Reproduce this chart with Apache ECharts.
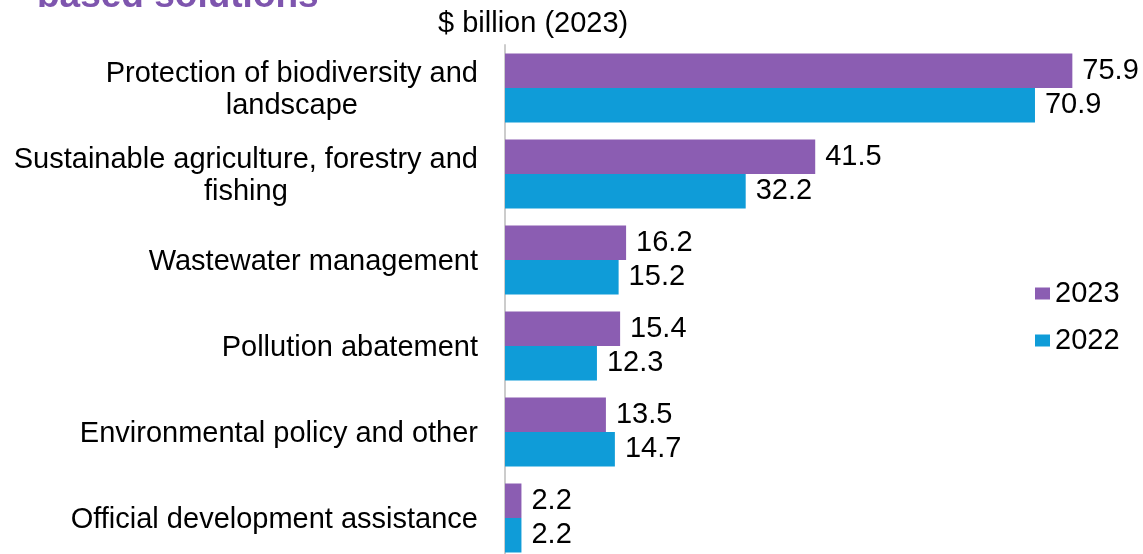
<!DOCTYPE html>
<html>
<head>
<meta charset="utf-8">
<script src="https://cdn.jsdelivr.net/npm/echarts@6/dist/echarts.min.js"></script>
<style>
  html, body { margin: 0; padding: 0; background: #ffffff; }
  #chart { width: 1143px; height: 554px; }
</style>
</head>
<body>
<div id="chart"></div>
<script>
// Spending categories, top to bottom
const categories = [
  'Protection of biodiversity and\nlandscape',
  'Sustainable agriculture, forestry and\nfishing',
  'Wastewater management',
  'Pollution abatement',
  'Environmental policy and other',
  'Official development assistance'
];
// $ billion (2023 prices)
const values2023 = [75.9, 41.5, 16.2, 15.4, 13.5, 2.2];
const values2022 = [70.9, 32.2, 15.2, 12.3, 14.7, 2.2];
const seriesNames = ['2023', '2022'];

const FONT = '"Liberation Sans", Arial, Helvetica, sans-serif';
const FS = 29;
const PURPLE = '#8B5DB2';
const BLUE = '#0F9CD8';

const chart = echarts.init(document.getElementById('chart'), null, { renderer: 'canvas' });

const labelStyle = {
  show: true,
  position: 'right',
  distance: 10,
  color: '#000000',
  fontFamily: FONT,
  fontSize: FS,
  formatter: p => p.value.toFixed(1)
};

chart.setOption({
  animation: false,
  backgroundColor: '#ffffff',
  textStyle: { fontFamily: FONT },
  graphic: [
    {
      type: 'text',
      left: 37,
      top: -22,
      style: {
        text: 'based solutions',
        fill: '#7E55AE',
        font: 'bold 37px ' + FONT
      }
    },
    {
      type: 'text',
      left: 438,
      top: 9,
      style: {
        text: '$ billion (2023)',
        fill: '#000000',
        font: FS + 'px ' + FONT
      }
    }
  ],
  legend: {
    orient: 'vertical',
    left: 1035,
    top: 279,
    padding: 0,
    itemWidth: 15,
    itemHeight: 12,
    itemGap: 18,
    icon: 'rect',
    textStyle: { color: '#000000', fontSize: FS, fontFamily: FONT },
    data: seriesNames
  },
  grid: {
    left: 505,
    top: 45,
    width: 598,
    height: 516,
    containLabel: false,
    outerBoundsMode: 'none'
  },
  xAxis: {
    type: 'value',
    min: 0,
    max: 80,
    show: false,
    splitLine: { show: false }
  },
  yAxis: {
    type: 'category',
    inverse: true,
    data: categories,
    axisLine: { show: true, lineStyle: { color: '#cccccc', width: 2 } },
    axisTick: { show: false },
    axisLabel: {
      margin: 27,
      color: '#000000',
      fontSize: FS,
      fontFamily: FONT,
      lineHeight: 32,
      padding: [4, 0, 0, 0],
      formatter: v => v.split('\n').map(l => '{c|' + l + '}').join('\n'),
      rich: {
        c: { align: 'center', fontSize: FS, lineHeight: 32, color: '#000000', fontFamily: FONT }
      }
    }
  },
  series: [
    {
      name: seriesNames[0],
      type: 'bar',
      data: values2023,
      barWidth: 34.5,
      barGap: '0%',
      itemStyle: { color: PURPLE },
      label: labelStyle
    },
    {
      name: seriesNames[1],
      type: 'bar',
      data: values2022,
      barWidth: 34.5,
      barGap: '0%',
      itemStyle: { color: BLUE },
      label: labelStyle
    }
  ]
});
</script>
</body>
</html>
